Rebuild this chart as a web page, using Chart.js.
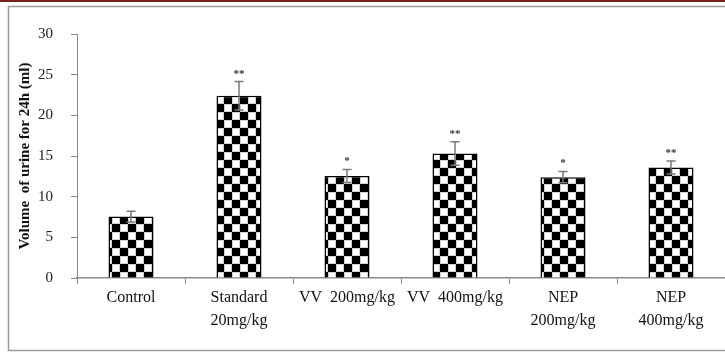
<!DOCTYPE html>
<html>
<head>
<meta charset="utf-8">
<script src="https://cdn.jsdelivr.net/npm/chart.js@4.4.1/dist/chart.umd.min.js"></script>
<style>
  html, body { margin: 0; padding: 0; background: #fff; overflow: hidden; }
  #wrap { position: relative; width: 725px; height: 353px; }
</style>
</head>
<body>
<div id="wrap"><canvas id="c" width="725" height="353"></canvas></div>
<script>
// ---- data ----
const categories = ['Control', ['Standard', '20mg/kg'], 'VV  200mg/kg', 'VV  400mg/kg', ['NEP', '200mg/kg'], ['NEP', '400mg/kg']];
const urineVolume = [7.55, 22.4, 12.55, 15.3, 12.4, 13.6];
const urineSD = [0.65, 1.75, 0.8, 1.45, 0.7, 0.8];
const significance = ['', '**', '*', '**', '*', '**'];
const yTicks = { min: 0, max: 30, step: 5 };
const yTitle = 'Volume  of urine for 24h (ml)';

// checkerboard pattern
function makePattern() {
  const s = 8;
  const pc = document.createElement('canvas');
  pc.width = s * 2; pc.height = s * 2;
  const p = pc.getContext('2d');
  p.fillStyle = '#fff';
  p.fillRect(0, 0, s * 2, s * 2);
  p.fillStyle = '#000';
  p.fillRect(0, 0, s, s);
  p.fillRect(s, s, s, s);
  p.strokeStyle = 'rgba(120,120,120,0.35)';
  p.lineWidth = 1;
  p.strokeRect(s + 0.5, 0.5, s - 1, s - 1);
  p.strokeRect(0.5, s + 0.5, s - 1, s - 1);
  return p.createPattern(pc, 'repeat');
}
const ctx0 = document.getElementById('c').getContext('2d');
const pattern = makePattern();

const framePlugin = {
  id: 'frame',
  beforeDraw(chart) {
    const c = chart.ctx;
    c.save();
    c.fillStyle = '#fff';
    c.fillRect(0, 0, chart.width, chart.height);
    c.fillStyle = '#7a1f1f';
    c.fillRect(0, 0, chart.width, 2);
    c.strokeStyle = '#9a9a9a';
    c.lineWidth = 1.5;
    c.beginPath();
    c.moveTo(chart.width + 5, 6.5);
    c.lineTo(8.5, 6.5);
    c.lineTo(8.5, 350.5);
    c.lineTo(chart.width + 5, 350.5);
    c.stroke();
    c.restore();
  }
};

const errorPlugin = {
  id: 'errbars',
  afterDatasetsDraw(chart) {
    const c = chart.ctx;
    const meta = chart.getDatasetMeta(0);
    const ys = chart.scales.y;
    c.save();
    meta.data.forEach((bar, i) => {
      const x = bar.x;
      const yT = ys.getPixelForValue(urineVolume[i] + urineSD[i]);
      const yB = ys.getPixelForValue(urineVolume[i] - urineSD[i]);
      c.strokeStyle = '#7a7a7a';
      c.lineWidth = 1.5;
      c.beginPath();
      c.moveTo(x, yT); c.lineTo(x, yB);
      c.moveTo(x - 4.5, yT); c.lineTo(x + 4.5, yT);
      c.moveTo(x - 4.5, yB); c.lineTo(x + 4.5, yB);
      c.stroke();
      if (significance[i]) {
        c.fillStyle = '#333';
        c.font = 'bold 11px "Liberation Serif", serif';
        c.textAlign = 'center';
        c.textBaseline = 'alphabetic';
        c.fillText(significance[i], x, yT - 5);
      }
    });
    c.restore();
  }
};

new Chart(ctx0, {
  type: 'bar',
  data: {
    labels: categories,
    datasets: [{
      data: urineVolume,
      backgroundColor: pattern,
      borderColor: '#000',
      borderWidth: 1.5,
      barPercentage: 0.417,
      categoryPercentage: 1.0
    }]
  },
  options: {
    responsive: false,
    animation: false,
    events: [],
    layout: { padding: { left: 0, top: 34, right: 0, bottom: 0 } },
    plugins: { legend: { display: false }, tooltip: { enabled: false } },
    scales: {
      x: {
        offset: true,
        grid: { display: true, drawOnChartArea: false, drawTicks: true, tickLength: 6, color: '#8a8a8a', offset: true },
        border: { display: true, color: '#8a8a8a', width: 1.5 },
        ticks: {
          color: '#111',
          padding: 3,
          maxRotation: 0,
          minRotation: 0,
          autoSkip: false,
          font: { family: '"Liberation Serif", serif', size: 16, lineHeight: 1.4 }
        },
        afterFit(s) { s.height = 75; }
      },
      y: {
        min: yTicks.min,
        max: yTicks.max,
        grid: { display: true, drawOnChartArea: false, drawTicks: true, tickLength: 6, color: '#8a8a8a' },
        border: { display: true, color: '#8a8a8a', width: 1 },
        ticks: {
          stepSize: yTicks.step,
          color: '#222',
          padding: 18,
          font: { family: '"Liberation Serif", serif', size: 15 }
        },
        title: {
          display: true,
          text: yTitle,
          color: '#111',
          padding: { top: 16, bottom: 0 },
          font: { family: '"Liberation Serif", serif', size: 15, weight: 'bold', lineHeight: 1.2 }
        },
        afterFit(s) { s.width = 77; }
      }
    }
  },
  plugins: [framePlugin, errorPlugin]
});
</script>
</body>
</html>
